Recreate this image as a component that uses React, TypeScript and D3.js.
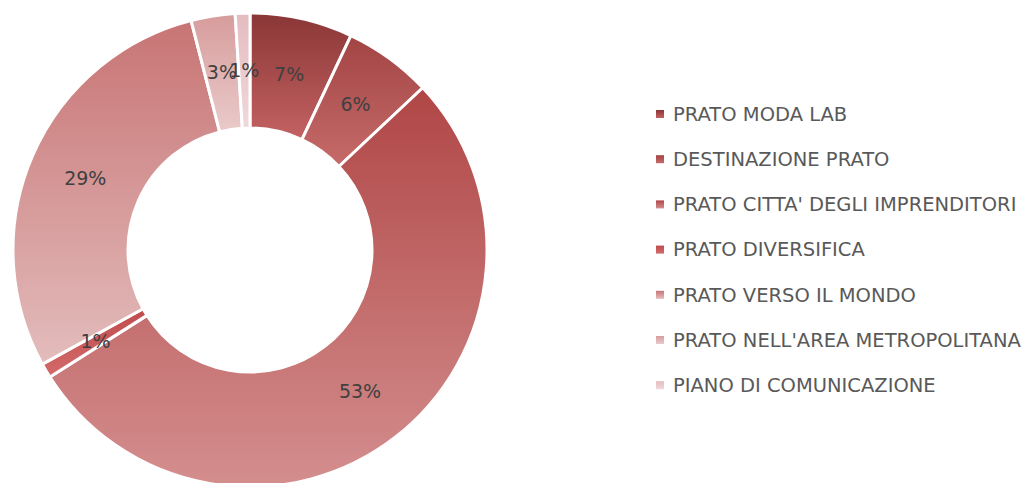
import React, { useEffect, useRef } from "react";
import * as d3 from "d3";

const categories = [
  "PRATO MODA LAB",
  "DESTINAZIONE PRATO",
  "PRATO CITTA' DEGLI IMPRENDITORI",
  "PRATO DIVERSIFICA",
  "PRATO VERSO IL MONDO",
  "PRATO NELL'AREA METROPOLITANA",
  "PIANO DI COMUNICAZIONE",
];

const values = [7, 6, 53, 1, 29, 3, 1];

// top / bottom gradient stops for each slice
const topColors = ["#8a3636", "#a34444", "#b04646", "#c04c4c", "#c87474", "#d79c9c", "#e4bcc0"];
const bottomColors = ["#c46262", "#c66a6a", "#d48e8e", "#d46a6a", "#e3bcbc", "#eacaca", "#f0d8da"];

const width = 1032;
const height = 483;
const font = "'DejaVu Sans', sans-serif";

export default function App() {
  const svgRef = useRef<SVGSVGElement>(null);

  useEffect(() => {
    if (!svgRef.current) return;
    const svg = d3.select(svgRef.current);
    svg.selectAll("*").remove();

    const cx = 250;
    const cy = 250;
    const outer = 237;
    const inner = 122;

    const defs = svg.append("defs");
    categories.forEach((_, i) => {
      const grad = defs
        .append("linearGradient")
        .attr("id", `g${i}`)
        .attr("x1", 0)
        .attr("y1", 0)
        .attr("x2", 0)
        .attr("y2", 1);
      grad.append("stop").attr("offset", "0%").attr("stop-color", topColors[i]);
      grad.append("stop").attr("offset", "100%").attr("stop-color", bottomColors[i]);
    });

    const pie = d3.pie<number>().sort(null).value((d) => d);
    const arcs = pie(values);
    const arc = d3.arc<d3.PieArcDatum<number>>().innerRadius(inner).outerRadius(outer);
    const labelArc = d3
      .arc<d3.PieArcDatum<number>>()
      .innerRadius((inner + outer) / 2)
      .outerRadius((inner + outer) / 2);

    const g = svg.append("g").attr("transform", `translate(${cx},${cy})`);

    g.selectAll("path.slice")
      .data(arcs)
      .enter()
      .append("path")
      .attr("class", "slice")
      .attr("d", arc)
      .attr("fill", (_, i) => `url(#g${i})`)
      .attr("stroke", "#fff")
      .attr("stroke-width", 3)
      .attr("stroke-linejoin", "round");

    const total = d3.sum(values);
    g.selectAll("text.lbl")
      .data(arcs)
      .enter()
      .append("text")
      .attr("class", "lbl")
      .attr("transform", (d) => `translate(${labelArc.centroid(d)})`)
      .attr("text-anchor", "middle")
      .attr("dy", "0.35em")
      .attr("font-family", font)
      .attr("font-size", "19px")
      .attr("fill", "#404040")
      .text((d) => `${Math.round((d.data / total) * 100)}%`);

    // Legend
    const legend = svg.append("g").attr("transform", "translate(656,114)");
    categories.forEach((cat, i) => {
      const row = legend.append("g").attr("transform", `translate(0,${i * 45.2})`);
      row
        .append("rect")
        .attr("x", 0)
        .attr("y", -4)
        .attr("width", 8)
        .attr("height", 8)
        .attr("fill", `url(#g${i})`);
      row
        .append("text")
        .attr("x", 17)
        .attr("y", 0)
        .attr("dy", "0.35em")
        .attr("font-family", font)
        .attr("font-size", "19.5px")
        .attr("fill", "#595959")
        .text(cat);
    });
  }, []);

  return (
    <div style={{ position: "fixed", left: 0, top: 0 }}>
      <svg ref={svgRef} width={width} height={height} style={{ display: "block", background: "#fff" }} />
    </div>
  );
}
